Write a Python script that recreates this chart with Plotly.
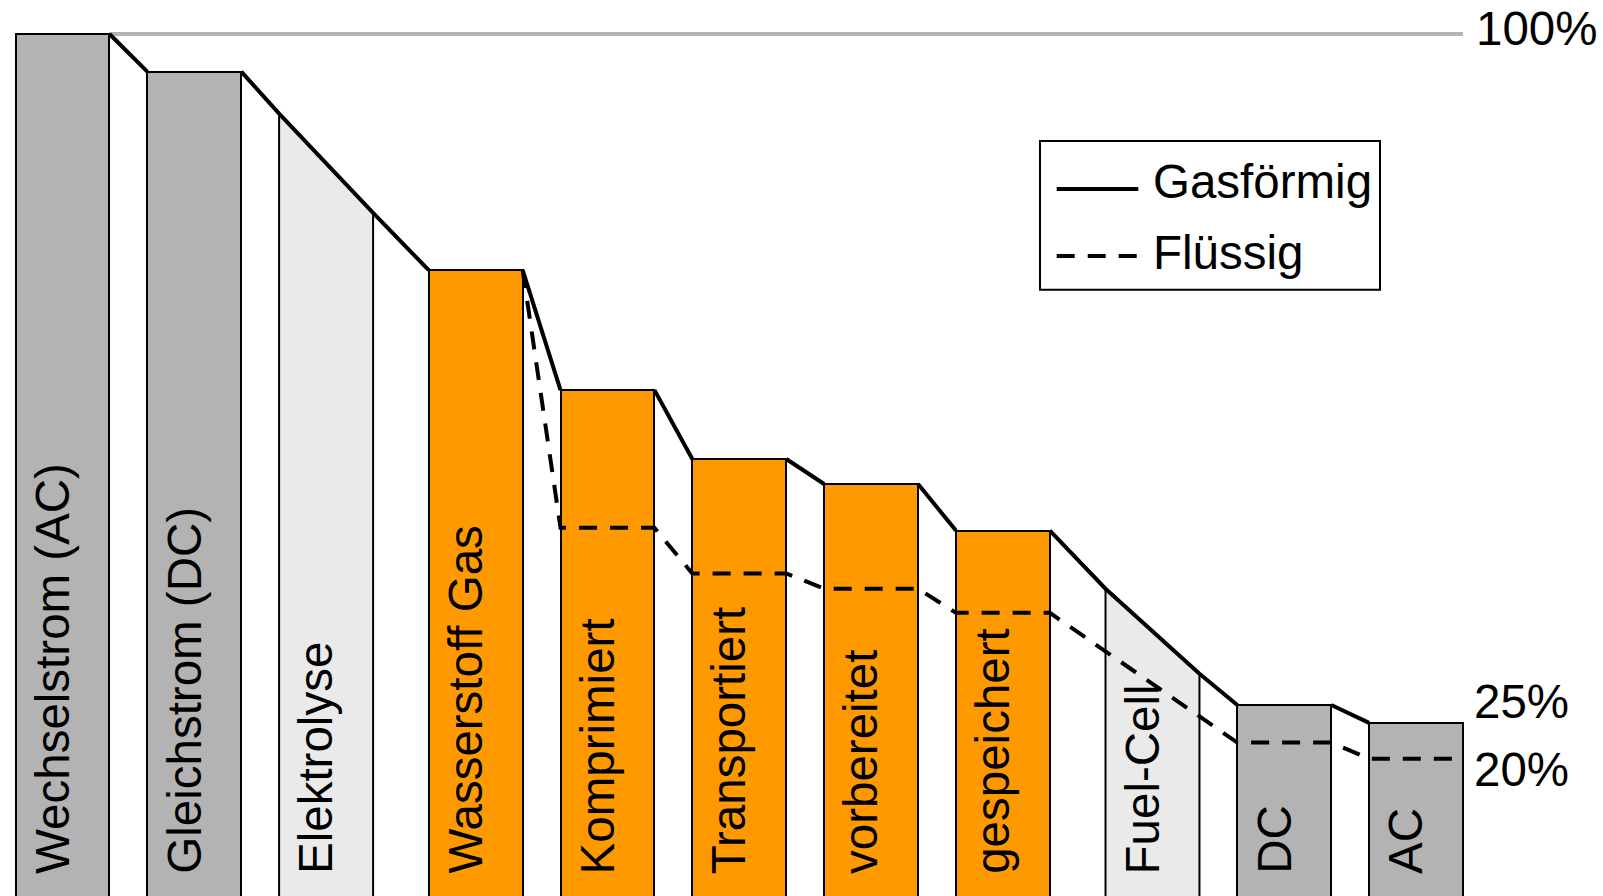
import plotly.graph_objects as go

# ---------------- data ----------------
STAGES = ["Wechselstrom (AC)", "Gleichstrom (DC)", "Elektrolyse", "Wasserstoff Gas",
          "Komprimiert", "Transportiert", "vorbereitet", "gespeichert",
          "Fuel-Cell", "DC", "AC"]
KIND = ["strom", "strom", "wandler", "h2", "h2", "h2", "h2", "h2",
        "wandler", "strom", "strom"]
# efficiency (%) at the left / right edge of each stage, gaseous path
GAS_IN = [100.0, 95.8, 91.1, 73.6, 60.2, 52.5, 49.7, 44.5, 38.0, 25.0, 23.0]
GAS_OUT = [100.0, 95.8, 80.0, 73.6, 60.2, 52.5, 49.7, 44.5, 28.5, 25.0, 23.0]
# liquid path (branches off after "Wasserstoff Gas")
LIQUID = [None, None, None, 73.6, 44.8, 39.7, 38.0, 35.3, None, 20.8, 19.0]
SERIES_NAMES = ["Gasförmig", "Flüssig"]
LEVEL_LABELS = ["100%", "25%", "20%"]

# ---------------- styling ----------------
W, H = 1603, 896
FILL = {"strom": "#B3B3B3", "wandler": "#EAEAEA", "h2": "#FF9900"}
FONT = "Liberation Sans, Arial, sans-serif"
FS = 47.5
BAR_W = 0.713
GROUP_GAP = 0.135
LABEL_BASE = 5.9
LINE_W = 4
DASH = "18px,13px"

# x positions: one unit per stage, a small extra gap where the hydrogen block starts/ends
pos = []
p = 0.0
for i, k in enumerate(KIND):
    if i > 0:
        p += 1.0
        if (k == "h2") != (KIND[i - 1] == "h2"):
            p += GROUP_GAP
    pos.append(p)

fig = go.Figure()

# regular bars
bi = [i for i, k in enumerate(KIND) if k != "wandler"]
fig.add_trace(go.Bar(
    x=[pos[i] for i in bi], y=[GAS_IN[i] for i in bi], width=BAR_W,
    marker=dict(color=[FILL[KIND[i]] for i in bi], line=dict(color="black", width=2)),
    showlegend=False, hoverinfo="skip"))

# converter stages (slanted top following the efficiency drop)
for i, k in enumerate(KIND):
    if k != "wandler":
        continue
    xl, xr = pos[i] - BAR_W / 2, pos[i] + BAR_W / 2
    fig.add_trace(go.Scatter(
        x=[xl, xl, xr, xr, xl], y=[0, GAS_IN[i], GAS_OUT[i], 0, 0],
        mode="lines", fill="toself", fillcolor=FILL[k],
        line=dict(color="black", width=2), showlegend=False, hoverinfo="skip"))

# gaseous path line
gx, gy = [], []
for i, k in enumerate(KIND):
    xl, xr = pos[i] - BAR_W / 2, pos[i] + BAR_W / 2
    if k == "wandler":
        gx += [xl, xr]
        gy += [GAS_IN[i], GAS_OUT[i]]
    else:
        gx += [xl, None, xr]
        gy += [GAS_IN[i], None, GAS_OUT[i]]
fig.add_trace(go.Scatter(x=gx, y=gy, mode="lines", name=SERIES_NAMES[0],
                         line=dict(color="black", width=LINE_W), connectgaps=False,
                         showlegend=False, hoverinfo="skip"))

# liquid path line
lx, ly = [], []
first = True
for i, v in enumerate(LIQUID):
    if v is None:
        continue
    xl, xr = pos[i] - BAR_W / 2, pos[i] + BAR_W / 2
    if first:
        lx += [xr]
        ly += [v]
        first = False
    else:
        lx += [xl, xr]
        ly += [v, v]
fig.add_trace(go.Scatter(x=lx, y=ly, mode="lines", name=SERIES_NAMES[1],
                         line=dict(color="black", width=LINE_W, dash=DASH),
                         showlegend=False, hoverinfo="skip"))

# 100% reference line
fig.add_shape(type="line", xref="x", yref="y", layer="below",
              x0=pos[0] + BAR_W / 2, x1=pos[-1] + BAR_W / 2,
              y0=GAS_OUT[0], y1=GAS_OUT[0],
              line=dict(color="#B3B3B3", width=LINE_W))

# stage labels (rotated, inside the bars)
for i, s in enumerate(STAGES):
    fig.add_annotation(x=pos[i], y=LABEL_BASE, xref="x", yref="y", text=s,
                       textangle=-90, showarrow=False, xanchor="center",
                       yanchor="bottom", xshift=-10,
                       font=dict(family=FONT, size=FS, color="black"))

# level labels on the right
xr_last = pos[-1] + BAR_W / 2
for txt, yv, ys, xs in [(LEVEL_LABELS[0], GAS_OUT[0], 5.7, 11),
                        (LEVEL_LABELS[1], GAS_OUT[9], 3.3, 9),
                        (LEVEL_LABELS[2], LIQUID[10], -10.7, 9)]:
    fig.add_annotation(x=xr_last, y=yv, xref="x", yref="y", text=txt,
                       showarrow=False, xanchor="left", yanchor="middle",
                       xshift=xs, yshift=ys,
                       font=dict(family=FONT, size=FS, color="black"))

# legend box (drawn in paper coordinates)
def px(v):
    return v / W


def py(v):
    return 1 - v / H


fig.add_shape(type="rect", xref="paper", yref="paper",
              x0=px(1040), x1=px(1380), y0=py(141), y1=py(289.7),
              line=dict(color="black", width=2), fillcolor="white", layer="above")
for name, dash, yc_line, yc_text in [(SERIES_NAMES[0], "solid", 189, 181),
                                     (SERIES_NAMES[1], DASH, 256, 252)]:
    fig.add_shape(type="line", xref="paper", yref="paper",
                  x0=px(1056.7), x1=px(1138.3), y0=py(yc_line), y1=py(yc_line),
                  line=dict(color="black", width=LINE_W, dash=dash), layer="above")
    fig.add_annotation(x=px(1150.5), y=py(yc_text), xref="paper", yref="paper",
                       text=name, showarrow=False, xanchor="left", yanchor="middle",
                       font=dict(family=FONT, size=FS, color="black"))

S = 131.8
X0 = 62.5
fig.update_layout(
    width=W, height=H,
    margin=dict(l=0, r=0, t=0, b=0, pad=0),
    paper_bgcolor="white", plot_bgcolor="white",
    xaxis=dict(visible=False, range=[-X0 / S, (W - X0) / S], fixedrange=True),
    yaxis=dict(visible=False, range=[(928.7 - H) / 8.947, 928.7 / 8.947], fixedrange=True),
    showlegend=False,
    bargap=0,
)

fig.write_html("out.html", config={"displayModeBar": False},
               post_script="document.body.style.margin='0';document.body.style.overflow='hidden';")
